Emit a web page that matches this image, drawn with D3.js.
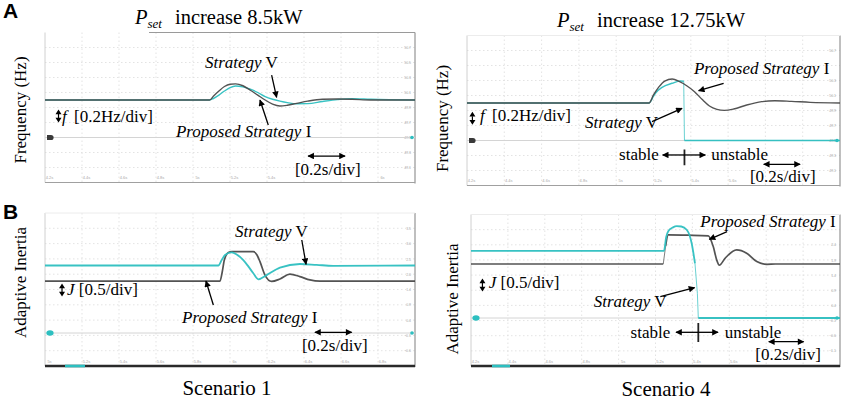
<!DOCTYPE html>
<html><head><meta charset="utf-8">
<script src="https://cdn.jsdelivr.net/npm/d3@7"></script>
<style>
body{margin:0;background:#fff}
svg{display:block;font-family:"Liberation Serif","Times New Roman",serif}
</style></head><body>
<svg id="c" width="844" height="401"></svg>
<script>
// ---------------- DATA (read from the scope captures) ----------------
// Panel A, Scenario 1 (P_set +8.5kW): frequency, Hz
const timeA1 = [4.2, 5.09, 5.11, 5.14, 5.17, 5.20, 5.23, 5.27, 5.31, 5.35, 5.39, 5.43, 5.47, 5.51, 5.56, 5.62, 5.70, 5.78, 5.86, 5.96, 6.2];
const freqA1Proposed = [50, 50, 50.05, 50.12, 50.18, 50.21, 50.215, 50.19, 50.13, 50.065, 50.0, 49.945, 49.92, 49.93, 49.955, 49.985, 50.01, 50.013, 50.01, 50.0, 50.0];
const freqA1StrategyV = [50, 50, 50.02, 50.065, 50.12, 50.165, 50.187, 50.175, 50.145, 50.1, 50.045, 50.01, 49.985, 49.965, 49.95, 49.952, 49.98, 50.005, 50.018, 50.01, 50.0];

// Panel A, Scenario 4 (P_set +12.75kW): frequency, Hz
const timeA4Proposed = [4.2, 5.176, 5.2, 5.23, 5.26, 5.30, 5.34, 5.38, 5.42, 5.46, 5.50, 5.54, 5.58, 5.63, 5.70, 5.78, 5.85, 5.94, 6.04, 6.2];
const freqA4Proposed = [50, 50, 50.107, 50.218, 50.293, 50.32, 50.284, 50.227, 50.151, 50.049, 49.96, 49.916, 49.902, 49.92, 49.973, 50.018, 50.031, 50.022, 50.009, 50.0];
const timeA4StrategyV = [4.2, 5.176, 5.2, 5.21, 5.246, 5.30, 5.344, 5.362, 5.366, 6.2];
const freqA4StrategyV = [50, 50, 50.09, 50.13, 50.209, 50.263, 50.293, 50.29, 49.5, 49.5];

// Panel B, Scenario 1: adaptive inertia J
const timeB1Proposed = [5.0, 5.946, 5.957, 5.97, 5.991, 6.011, 6.126, 6.146, 6.162, 6.189, 6.225, 6.27, 6.324, 6.378, 6.432, 6.486, 7.0];
const inertiaB1Proposed = [1.73, 1.73, 2.0, 2.45, 2.68, 2.71, 2.71, 2.6, 2.38, 1.93, 1.72, 1.8, 1.96, 1.88, 1.77, 1.73, 1.73];
const timeB1StrategyV = [5.0, 5.937, 5.955, 5.973, 6.009, 6.036, 6.072, 6.099, 6.126, 6.153, 6.198, 6.27, 6.378, 6.469, 6.557, 7.0];
const inertiaB1StrategyV = [2.25, 2.25, 2.43, 2.6, 2.69, 2.62, 2.43, 2.22, 1.99, 1.79, 1.93, 2.18, 2.3, 2.27, 2.24, 2.25];

// Panel B, Scenario 4: adaptive inertia J
const timeB4Proposed = [4.2, 5.242, 5.255, 5.269, 5.38, 5.486, 5.513, 5.532, 5.546, 5.577, 5.64, 5.694, 5.749, 5.803, 5.85, 6.2];
const inertiaB4Proposed = [1.8, 1.8, 2.4, 2.77, 2.76, 2.74, 2.38, 1.93, 1.76, 1.99, 2.27, 2.16, 1.88, 1.79, 1.8, 1.8];
const timeB4StrategyV = [4.2, 5.246, 5.258, 5.27, 5.295, 5.315, 5.34, 5.369, 5.385, 5.396, 5.414, 5.427, 5.432, 6.2];
const inertiaB4StrategyV = [2.24, 2.24, 2.7, 2.9, 3.02, 3.06, 3.05, 2.94, 2.75, 2.49, 1.82, 0.82, 0.0, 0.0];

// Text labels
const panelLetters = ["A", "B"];
const scenarioLabels = ["Scenario 1", "Scenario 4"];
const titleIncrease = ["increase 8.5kW", "increase 12.75kW"];
const yLabels = ["Frequency (Hz)", "Adaptive Inertia"];

// ---------------- LAYOUT ----------------
const svg = d3.select("#c");
const GRAY = "#4a4a4a", CYAN = "#2dbfc0";

const defs = svg.append("defs");
defs.append("marker").attr("id","ah").attr("viewBox","0 0 10 10").attr("refX",9).attr("refY",5)
  .attr("markerUnits","userSpaceOnUse").attr("markerWidth",8).attr("markerHeight",6.5)
  .attr("orient","auto-start-reverse")
  .append("path").attr("d","M0,0 L10,5 L0,10 z").attr("fill","#000");

const panels = [
  {x0:45, x1:415, y0:32.5, y1:182.5, t:[4.2,6.2], v:[48.9,50.9], zero:49.5, kind:"A", fmt:d3.format(".1f"),
   series:[{t:timeA1, v:freqA1StrategyV, c:CYAN, w:1.4}, {t:timeA1, v:freqA1Proposed, c:GRAY, w:1.4}],
   leftMarker:"dark", topLine:[149,415],
   ann:[
    {type:"label", t:5.065, v:50.427, parts:[["Strategy",1],[" V",0]]},
    {type:"arrow", t1:5.425, v1:50.333, t2:5.452, v2:50.036},
    {type:"label", t:4.908, v:49.507, parts:[["Proposed Strategy",1],[" I",0]]},
    {type:"arrow", t1:5.407, v1:49.667, t2:5.362, v2:50.0},
    {type:"updown", t:4.273, v:49.787},
    {type:"label", t:4.292, v:49.711, parts:[["f",1],[" [0.2Hz/div]",0,3]]},
    {type:"label", t:5.551, v:49.0, parts:[["[0.2s/div]",0]]},
    {type:"arrow2", t1:5.622, t2:5.822, v:49.253}
   ]},
  {x0:467, x1:840, y0:35.5, y1:185.5, t:[4.2,6.2], v:[48.9,50.9], zero:49.5, kind:"A", fmt:d3.format(".1f"),
   series:[{t:timeA4StrategyV, v:freqA4StrategyV, c:CYAN, w:1.4}, {t:timeA4Proposed, v:freqA4Proposed, c:GRAY, w:1.4}],
   leftMarker:"dark",
   ann:[
    {type:"label", t:5.417, v:50.387, parts:[["Proposed Strategy",1],[" I",0]]},
    {type:"arrow", t1:5.576, v1:50.263, t2:5.442, v2:50.164},
    {type:"label", t:4.833, v:49.663, parts:[["Strategy",1],[" V",0]]},
    {type:"arrow", t1:5.192, v1:49.751, t2:5.353, v2:49.929},
    {type:"split", t:5.366, vTop:49.38, vBot:49.17, vArrow:49.307, tl:5.249, tr:5.478, tStable:5.228, tUnstable:5.51, vText:49.24},
    {type:"label", t:5.717, v:48.951, parts:[["[0.2s/div]",0]]},
    {type:"arrow2", t1:5.791, t2:5.986, v:49.183},
    {type:"updown", t:4.229, v:49.796},
    {type:"label", t:4.27, v:49.764, parts:[["f",1],[" [0.2Hz/div]",0,3]]}
   ]},
  {x0:45, x1:415, y0:213, y1:366, t:[5.0,7.0], v:[-1.1,4.0], zero:0, kind:"B", fmt:d3.format(".1f"),
   series:[{t:timeB1Proposed, v:inertiaB1Proposed, c:GRAY, w:1.7}, {t:timeB1StrategyV, v:inertiaB1StrategyV, c:CYAN, w:1.8}],
   leftMarker:"cyan", bar:[65,85],
   ann:[
    {type:"label", t:6.027, v:3.21, parts:[["Strategy",1],[" V",0]]},
    {type:"arrow", t1:6.388, v1:3.1, t2:6.411, v2:2.29},
    {type:"label", t:5.741, v:0.323, parts:[["Proposed Strategy",1],[" I",0]]},
    {type:"arrow", t1:5.91, v1:0.933, t2:5.87, v2:1.733},
    {type:"updown", t:5.092, v:1.433},
    {type:"label", t:5.119, v:1.267, parts:[["J",1],[" [0.5/div]",0]]},
    {type:"label", t:6.389, v:-0.6, parts:[["[0.2s/div]",0]]},
    {type:"arrow2", t1:6.459, t2:6.658, v:0.023}
   ]},
  {x0:471, x1:840, y0:214.5, y1:366, t:[4.2,6.2], v:[-1.6,3.45], zero:0, kind:"B", fmt:d3.format(".1f"),
   series:[{t:timeB4Proposed, v:inertiaB4Proposed, c:GRAY, w:1.7}, {t:timeB4StrategyV, v:inertiaB4StrategyV, c:CYAN, w:1.8}],
   leftMarker:"cyan", bar:[492,510],
   ann:[
    {type:"label", t:5.443, v:3.043, parts:[["Proposed Strategy",1],[" I",0]]},
    {type:"arrow", t1:5.588, v1:2.877, t2:5.492, v2:2.623},
    {type:"label", t:4.865, v:0.377, parts:[["Strategy",1],[" V",0]]},
    {type:"arrow", t1:5.226, v1:0.71, t2:5.412, v2:1.01},
    {type:"split", t:5.432, vTop:-0.167, vBot:-0.8, vArrow:-0.477, tl:5.311, tr:5.539, tStable:5.28, tUnstable:5.575, vText:-0.657},
    {type:"label", t:5.741, v:-1.4, parts:[["[0.2s/div]",0]]},
    {type:"arrow2", t1:5.814, t2:6.003, v:-0.79},
    {type:"updown", t:4.262, v:1.1},
    {type:"label", t:4.296, v:1.01, parts:[["J",1],[" [0.5/div]",0]]}
   ]}
];

panels.forEach(p => {
  const x = d3.scaleLinear().domain(p.t).range([p.x0, p.x1]);
  const y = d3.scaleLinear().domain(p.v).range([p.y1, p.y0]);
  const g = svg.append("g");
  const xt = d3.range(11).map(i => p.t[0] + i*(p.t[1]-p.t[0])/10);
  const yt = d3.range(11).map(i => p.v[0] + i*(p.v[1]-p.v[0])/10);

  // grid (dotted, faint)
  g.selectAll(null).data(xt.slice(1,10)).join("line")
    .attr("x1", d=>x(d)).attr("x2", d=>x(d)).attr("y1", p.y0).attr("y2", p.y1)
    .attr("stroke","#dcdcdc").attr("stroke-width",0.8).attr("stroke-dasharray","1.5,2.5");
  g.selectAll(null).data(yt.slice(1,10)).join("line")
    .attr("x1", p.x0).attr("x2", p.x1).attr("y1", d=>y(d)).attr("y2", d=>y(d))
    .attr("stroke","#dcdcdc").attr("stroke-width",0.8).attr("stroke-dasharray","1.5,2.5");

  // frame
  g.append("line").attr("x1",p.x0).attr("x2",p.x0).attr("y1",p.y0).attr("y2",p.y1).attr("stroke","#d0d0d0");
  g.append("line").attr("x1",p.x1).attr("x2",p.x1).attr("y1",p.y0).attr("y2",p.y1+1).attr("stroke","#8a8a8a").attr("stroke-width",1.1);
  if (p.topLine) g.append("line").attr("x1",p.topLine[0]).attr("x2",p.topLine[1]).attr("y1",p.y0).attr("y2",p.y0).attr("stroke","#9a9a9a");
  else g.append("line").attr("x1",p.x0).attr("x2",p.x1).attr("y1",p.y0).attr("y2",p.y0).attr("stroke","#ececec");
  if (p.kind === "A") {
    g.append("line").attr("x1",p.x0).attr("x2",p.x1).attr("y1",p.y1).attr("y2",p.y1).attr("stroke","#a0a0a0");
  } else {
    g.append("line").attr("x1",p.x0).attr("x2",p.x1).attr("y1",p.y1).attr("y2",p.y1).attr("stroke","#2a2a2a").attr("stroke-width",2.6);
    g.append("line").attr("x1",p.bar[0]).attr("x2",p.bar[1]).attr("y1",p.y1).attr("y2",p.y1).attr("stroke",CYAN).attr("stroke-width",2.6);
  }

  // tiny scope tick labels (time along bottom, values at right)
  const ax = g.append("g").attr("transform",`translate(0,${p.y1-6})`)
    .call(d3.axisBottom(x).tickValues(xt.slice(0,10)).tickSize(0).tickPadding(0)
      .tickFormat(d => d3.format("~g")(d) + "s"));
  ax.select(".domain").remove();
  ax.selectAll("text").classed("tiny", true).attr("dx", 4).attr("font-size", 4).attr("fill", "#a8a8a8").attr("font-family","Liberation Sans, sans-serif");
  const ay = g.append("g").attr("transform",`translate(${p.x1-4},0)`)
    .call(d3.axisLeft(y).tickValues(yt.slice(1,10)).tickSize(0).tickPadding(0).tickFormat(p.fmt));
  ay.select(".domain").remove();
  ay.selectAll("text").classed("tiny", true).attr("font-size", 3.5).attr("fill", "#a8a8a8").attr("font-family","Liberation Sans, sans-serif");

  // channel ground line and markers
  g.append("line").attr("x1",p.x0).attr("x2",p.x1).attr("y1",y(p.zero)).attr("y2",y(p.zero))
    .attr("stroke","#d4d4d4").attr("stroke-width",1);
  if (p.leftMarker === "dark") {
    g.append("path").attr("d", `M${p.x0+2},${y(p.zero)-2.6} h4 a2.6,2.6 0 0 1 0,5.2 h-4 z`).attr("fill","#3a3a3a");
  } else {
    g.append("ellipse").attr("cx",p.x0+5).attr("cy",y(p.zero)).attr("rx",3.6).attr("ry",2.8).attr("fill",CYAN);
  }
  g.append("circle").attr("cx",p.x1-3).attr("cy",y(p.zero)).attr("r",1.8).attr("fill",CYAN);

  // traces: slow parts drawn as smooth thick curves, very fast transitions thin & faint (as on the scope)
  const line = d3.line().x(d=>x(d[0])).y(d=>y(d[1])).curve(d3.curveMonotoneX);
  p.series.forEach(s => {
    const pts = d3.zip(s.t, s.v);
    const runs = [[pts[0]]], steep = [];
    for (let i = 1; i < pts.length; i++) {
      const dx = x(pts[i][0]) - x(pts[i-1][0]);
      const dy = Math.abs(y(pts[i][1]) - y(pts[i-1][1]));
      if (dx < 3 && dy > 15) { steep.push([pts[i-1], pts[i]]); runs.push([pts[i]]); }
      else runs[runs.length-1].push(pts[i]);
    }
    steep.forEach(sg => {
      g.append("line").attr("x1", x(sg[0][0])).attr("y1", y(sg[0][1])).attr("x2", x(sg[1][0])).attr("y2", y(sg[1][1]))
        .attr("stroke", s.c).attr("stroke-width", 1).attr("opacity", 0.7);
    });
    runs.filter(r => r.length > 1).forEach(r => {
      g.append("path").datum(r).attr("d", line)
        .attr("fill","none").attr("stroke", s.c).attr("stroke-width", s.w)
        .attr("stroke-linejoin","round").attr("opacity", 0.95);
    });
  });

  // annotations
  const fs = 17;
  p.ann.forEach(a => {
    if (a.type === "label") {
      const t = g.append("text").classed("big", true).attr("x", x(a.t)).attr("y", y(a.v)).attr("font-size", fs).attr("fill","#000");
      a.parts.forEach(pt => {
        const ts = t.append("tspan").text(pt[0]).attr("font-style", pt[1] ? "italic" : "normal");
        if (pt[2]) ts.attr("dx", pt[2]);
      });
    } else if (a.type === "arrow") {
      g.append("line").attr("x1",x(a.t1)).attr("y1",y(a.v1)).attr("x2",x(a.t2)).attr("y2",y(a.v2))
        .attr("stroke","#000").attr("stroke-width",1.3).attr("marker-end","url(#ah)");
    } else if (a.type === "arrow2") {
      g.append("line").attr("x1",x(a.t1)).attr("y1",y(a.v)).attr("x2",x(a.t2)).attr("y2",y(a.v))
        .attr("stroke","#000").attr("stroke-width",1.3).attr("marker-start","url(#ah)").attr("marker-end","url(#ah)");
    } else if (a.type === "updown") {
      const cx = x(a.t), cy = y(a.v);
      g.append("path").attr("d",
        `M${cx},${cy-6.5} L${cx-3},${cy-1.8} L${cx+3},${cy-1.8} Z M${cx},${cy+6.5} L${cx-3},${cy+1.8} L${cx+3},${cy+1.8} Z`)
        .attr("fill","#000");
      g.append("line").attr("x1",cx).attr("x2",cx).attr("y1",cy-2).attr("y2",cy+2).attr("stroke","#000").attr("stroke-width",1.2);
    } else if (a.type === "split") {
      g.append("line").attr("x1",x(a.t)).attr("x2",x(a.t)).attr("y1",y(a.vTop)).attr("y2",y(a.vBot))
        .attr("stroke","#222").attr("stroke-width",1.8);
      g.append("line").attr("x1",x(a.t)).attr("x2",x(a.tl)).attr("y1",y(a.vArrow)).attr("y2",y(a.vArrow))
        .attr("stroke","#000").attr("stroke-width",1.3).attr("marker-end","url(#ah)");
      g.append("line").attr("x1",x(a.t)).attr("x2",x(a.tr)).attr("y1",y(a.vArrow)).attr("y2",y(a.vArrow))
        .attr("stroke","#000").attr("stroke-width",1.3).attr("marker-end","url(#ah)");
      g.append("text").classed("big", true).attr("x",x(a.tStable)).attr("y",y(a.vText)).attr("text-anchor","end").attr("font-size",fs).text("stable");
      g.append("text").classed("big", true).attr("x",x(a.tUnstable)).attr("y",y(a.vText)).attr("font-size",fs).text("unstable");
    }
  });
});

// Titles
const titles = [{px:135, ix:175, y:23.5}, {px:557, ix:597, y:26.5}];
titles.forEach((tt, i) => {
  const t = svg.append("text").classed("big", true).attr("x", tt.px).attr("y", tt.y).attr("font-size", 20.5);
  t.append("tspan").attr("font-style","italic").text("P");
  t.append("tspan").attr("font-style","italic").attr("font-size",13).attr("dy",4.5).text("set");
  svg.append("text").classed("big", true).attr("x", tt.ix).attr("y", tt.y).attr("font-size", 20.5).text(titleIncrease[i]);
});

// Panel letters
[{x:3, y:17.5}, {x:3, y:218.5}].forEach((l, i) => {
  svg.append("text").attr("x", l.x).attr("y", l.y).attr("font-family","Liberation Sans, Arial, sans-serif")
    .attr("font-weight","bold").attr("font-size", 21).text(panelLetters[i]);
});

// Y axis labels (rotated)
[{x:26, y:110, i:0}, {x:448, y:118.5, i:0}, {x:25.5, y:282.5, i:1}, {x:458, y:299, i:1}].forEach(l => {
  svg.append("text").attr("transform", `translate(${l.x},${l.y}) rotate(-90)`)
    .attr("text-anchor","middle").attr("font-size", 17).text(yLabels[l.i]);
});

// Scenario captions
[{x:227, y:395}, {x:666, y:395.5}].forEach((s, i) => {
  svg.append("text").attr("x", s.x).attr("y", s.y).attr("text-anchor","middle").attr("font-size", 21).text(scenarioLabels[i]);
});

// drop the tiny scope labels that sit under the annotation texts
const bigBoxes = svg.selectAll("text.big").nodes().map(n => n.getBoundingClientRect());
svg.selectAll("text.tiny").each(function() {
  const r = this.getBoundingClientRect();
  const hit = bigBoxes.some(b => r.left < b.right && r.right > b.left && r.top < b.bottom && r.bottom > b.top);
  if (hit) d3.select(this).remove();
});
</script>
</body></html>
